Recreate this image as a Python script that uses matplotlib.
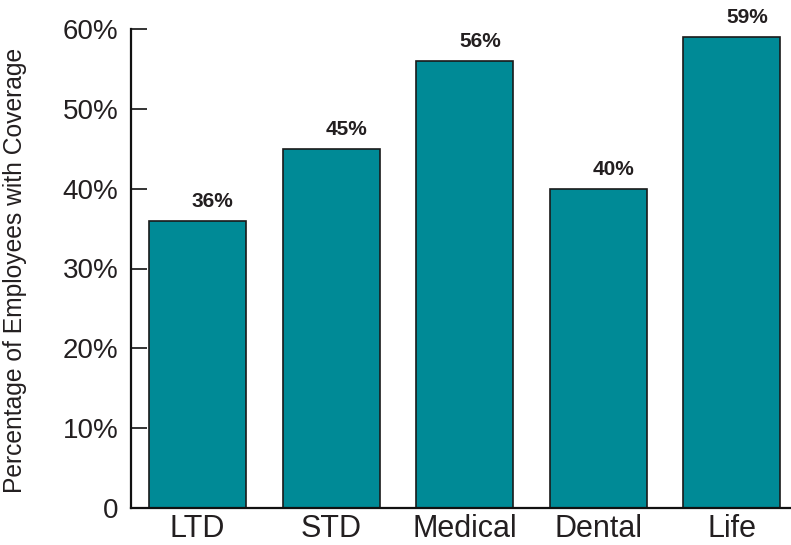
import matplotlib.pyplot as plt

# benefit coverage by plan type
categories = ['LTD', 'STD', 'Medical', 'Dental', 'Life']
coverage = [36, 45, 56, 40, 59]
y_ticks = [0, 10, 20, 30, 40, 50, 60]
y_tick_labels = ['0', '10%', '20%', '30%', '40%', '50%', '60%']

BAR_COLOUR = '#008a96'
TEXT_COLOUR = '#231f20'
W, H = 791, 545

plt.rcParams['font.family'] = ['Liberation Sans', 'DejaVu Sans']

fig = plt.figure(figsize=(W / 100, H / 100), dpi=100)
ax = fig.add_axes([131 / W, (H - 508) / H, (W - 131) / W, (508 - 29) / H])

x = range(len(categories))
ax.bar(x, coverage, width=0.726, color=BAR_COLOUR, edgecolor='#1a1a1a', linewidth=1.2, zorder=2)

for xi, v in zip(x, coverage):
    ax.annotate(f'{v}%', (xi, v), xytext=(11, 7), textcoords='offset points',
                ha='center', va='bottom', fontsize=15, fontweight='bold', color=TEXT_COLOUR)

ax.set_xlim(-0.498, 4.442)
ax.set_ylim(0, 60)
ax.set_yticks(y_ticks)
ax.set_yticklabels(y_tick_labels)
ax.set_xticks(list(x))
ax.set_xticklabels(categories)

for s in ['top', 'right']:
    ax.spines[s].set_visible(False)
for s in ['left', 'bottom']:
    ax.spines[s].set_linewidth(1.6)
    ax.spines[s].set_color('#111111')
    ax.spines[s].set_zorder(3)

ax.tick_params(axis='y', direction='in', length=11.5, width=1.2, pad=9,
               labelsize=20, labelcolor=TEXT_COLOUR, color='#111111')
ax.tick_params(axis='x', length=0, pad=4, labelsize=22, labelcolor=TEXT_COLOUR)

ax.set_ylabel('Percentage of Employees with Coverage', fontsize=17.7, color=TEXT_COLOUR)
ax.yaxis.set_label_coords(-0.157, 0.495)

fig.savefig('out.png', dpi=100)
